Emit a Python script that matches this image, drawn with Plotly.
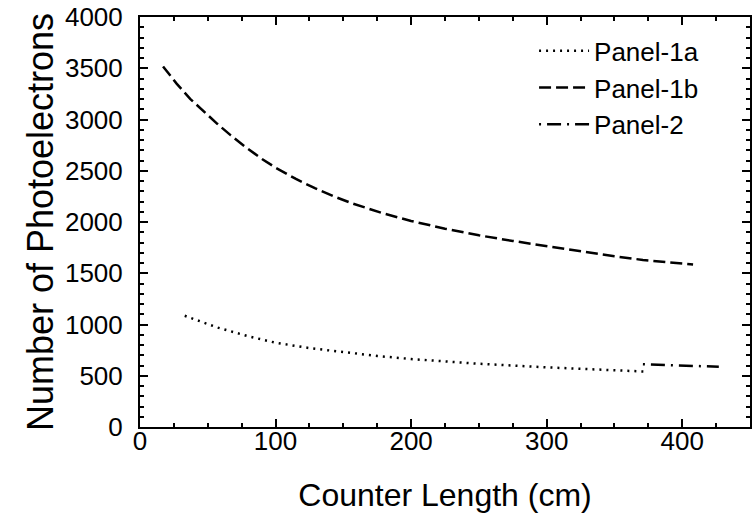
import plotly.graph_objects as go

# Panel-1a (dotted)
p1a_x = [33, 57, 80, 100, 125, 150, 175, 200, 250, 300, 340, 374]
p1a_y = [1085, 971, 885, 822, 770, 728, 693, 663, 617, 582, 558, 540]
# Panel-1b (dashed)
p1b_x = [17, 27, 37, 47, 57, 67, 77, 90, 100, 115, 129, 143, 157, 178, 200,
         225, 250, 275, 300, 329, 350, 371, 390, 408]
p1b_y = [3518, 3350, 3202, 3075, 2958, 2845, 2740, 2615, 2530, 2420, 2330, 2250, 2180, 2090, 2010,
         1935, 1870, 1815, 1765, 1705, 1665, 1630, 1605, 1585]
# Panel-2 (dash-dot)
p2_x = [371, 400, 427]
p2_y = [612, 600, 588]

FONT = "Liberation Sans, Arial, Helvetica, sans-serif"

fig = go.Figure()
fig.add_trace(go.Scatter(x=p1a_x, y=p1a_y, mode="lines", name="Panel-1a",
                         line=dict(color="black", width=2.5, dash="2px,5px")))
fig.add_trace(go.Scatter(x=p1b_x, y=p1b_y, mode="lines", name="Panel-1b",
                         line=dict(color="black", width=2.5, dash="12px,5px")))
fig.add_trace(go.Scatter(x=p2_x, y=p2_y, mode="lines", name="Panel-2",
                         line=dict(color="black", width=2.5, dash="2px,6px,14px,6px")))

axis_common = dict(
    showgrid=False, zeroline=False, showline=True, linecolor="black", linewidth=2,
    mirror="allticks", ticks="inside", ticklen=8, tickwidth=2, tickcolor="black",
    tickfont=dict(family=FONT, size=26, color="black"),
)
fig.update_xaxes(range=[0, 450], tick0=0, dtick=100, ticklabelstandoff=-10,
                 minor=dict(ticks="inside", ticklen=4, tickwidth=2, tickcolor="black", dtick=25),
                 title=dict(text="Counter Length (cm)", font=dict(family=FONT, size=32, color="black"), standoff=28),
                 **axis_common)
fig.update_yaxes(range=[0, 4000], tick0=0, dtick=500, ticklabelstandoff=10,
                 minor=dict(ticks="inside", ticklen=4, tickwidth=2, tickcolor="black", dtick=100),
                 title=dict(text="Number of Photoelectrons", font=dict(family=FONT, size=36, color="black"), standoff=0),
                 **axis_common)

fig.update_layout(
    width=753, height=522,
    margin=dict(l=140, r=1, t=17, b=95),
    paper_bgcolor="white", plot_bgcolor="white",
    showlegend=True,
    legend=dict(x=0.646, y=0.975, xanchor="left", yanchor="top",
                bgcolor="rgba(0,0,0,0)", borderwidth=0,
                font=dict(family=FONT, size=26, color="black"),
                itemwidth=50, tracegroupgap=0),
)

fig.write_html("out.html")
